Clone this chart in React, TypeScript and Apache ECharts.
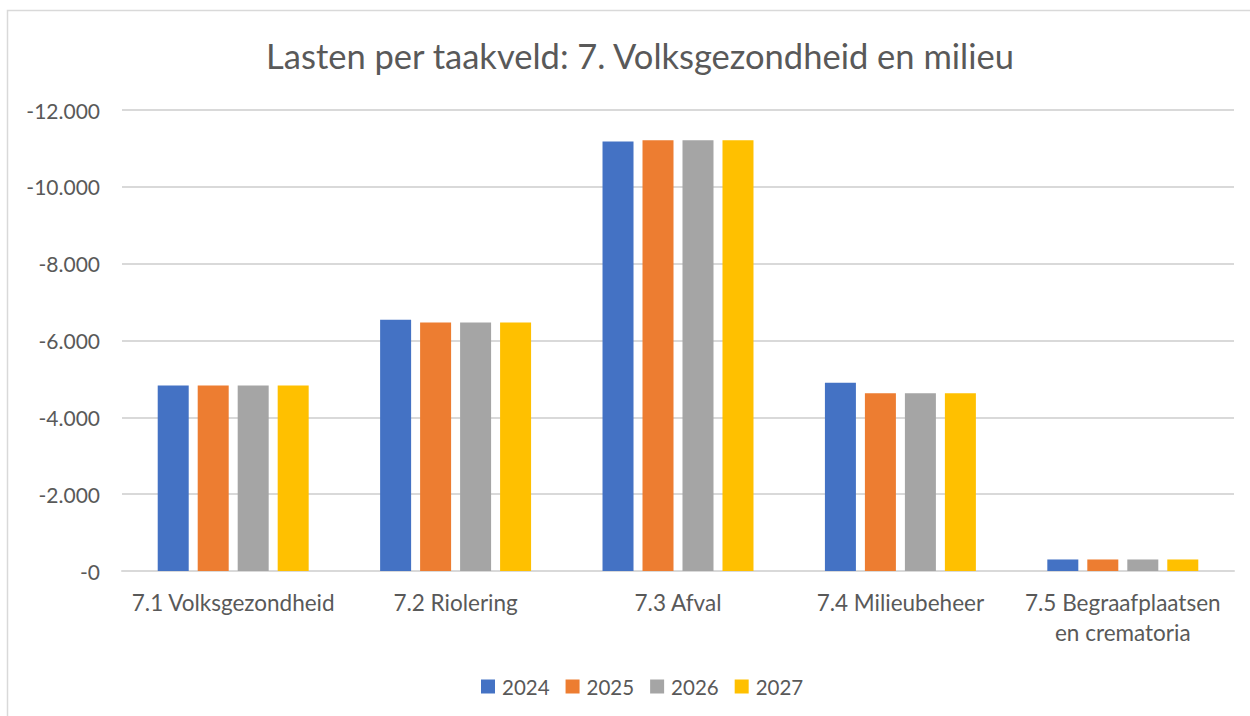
import React, { useEffect, useRef } from "react";
import * as echarts from "echarts";

const categories = [
  "7.1 Volksgezondheid",
  "7.2 Riolering",
  "7.3 Afval",
  "7.4 Milieubeheer",
  "7.5 Begraafplaatsen en crematoria",
];
const years = ["2024", "2025", "2026", "2027"];
const values2024 = [-4830, -6540, -11180, -4900, -300];
const values2025 = [-4830, -6470, -11210, -4630, -300];
const values2026 = [-4830, -6470, -11210, -4630, -300];
const values2027 = [-4830, -6470, -11210, -4630, -300];
const seriesValues = [values2024, values2025, values2026, values2027];
const colors = ["#4472C4", "#ED7D31", "#A5A5A5", "#FFC000"];
const titleText = "Lasten per taakveld: 7. Volksgezondheid en milieu";

const FONT = "Lato, 'Open Sans', sans-serif";
const TEXT = "#595959";

function fmt(v: number): string {
  if (v === 0) return "-0";
  const s = Math.abs(v).toString().replace(/\B(?=(\d{3})+(?!\d))/g, ".");
  return (v < 0 ? "-" : "") + s;
}

export default function App() {
  const ref = useRef<HTMLDivElement>(null);
  useEffect(() => {
    if (!ref.current) return;
    const chart = echarts.init(ref.current, undefined, { renderer: "svg" });
    chart.setOption({
      animation: false,
      backgroundColor: "#ffffff",
      graphic: [
        {
          type: "rect",
          shape: { x: 7.5, y: 10.5, width: 1300, height: 800 },
          style: { fill: "none", stroke: "#d9d9d9", lineWidth: 1.5 },
          silent: true,
        },
      ],
      title: {
        text: titleText,
        left: 635,
        textAlign: "center",
        top: 33,
        textStyle: { fontFamily: FONT, fontSize: 34.5, fontWeight: "normal", color: TEXT },
      },
      legend: {
        data: years,
        left: 476,
        top: 671,
        itemWidth: 14,
        itemHeight: 14,
        itemGap: 16,
        icon: "rect",
        textStyle: { fontFamily: FONT, fontSize: 20.5, color: TEXT, padding: [0, 0, 0, 2] },
      },
      grid: { left: 122, right: 16, top: 110, bottom: 145, containLabel: false },
      xAxis: {
        type: "category",
        data: categories,
        axisLine: { show: true, lineStyle: { color: "#d9d9d9", width: 2 } },
        axisTick: { show: false },
        axisLabel: {
          interval: 0,
          margin: 16,
          fontFamily: FONT,
          fontSize: 22.5,
          color: TEXT,
          lineHeight: 30,
          formatter: (v: string) => v.replace(" en ", "\nen "),
        },
      },
      yAxis: {
        type: "value",
        inverse: true,
        min: -12000,
        max: 0,
        interval: 2000,
        axisLine: { show: false },
        axisTick: { show: false },
        splitLine: { lineStyle: { color: "#d9d9d9", width: 2 } },
        axisLabel: {
          margin: 22,
          fontFamily: FONT,
          fontSize: 21,
          color: TEXT,
          formatter: (v: number) => fmt(v),
        },
      },
      series: years.map((y, i) => ({
        name: y,
        type: "bar",
        data: seriesValues[i],
        barWidth: 31,
        barGap: "29%",
        itemStyle: { color: colors[i] },
      })),
    });
    return () => chart.dispose();
  }, []);
  return (
    <div
      ref={ref}
      style={{ position: "absolute", left: 0, top: 0, width: 1250, height: 716 }}
    />
  );
}
